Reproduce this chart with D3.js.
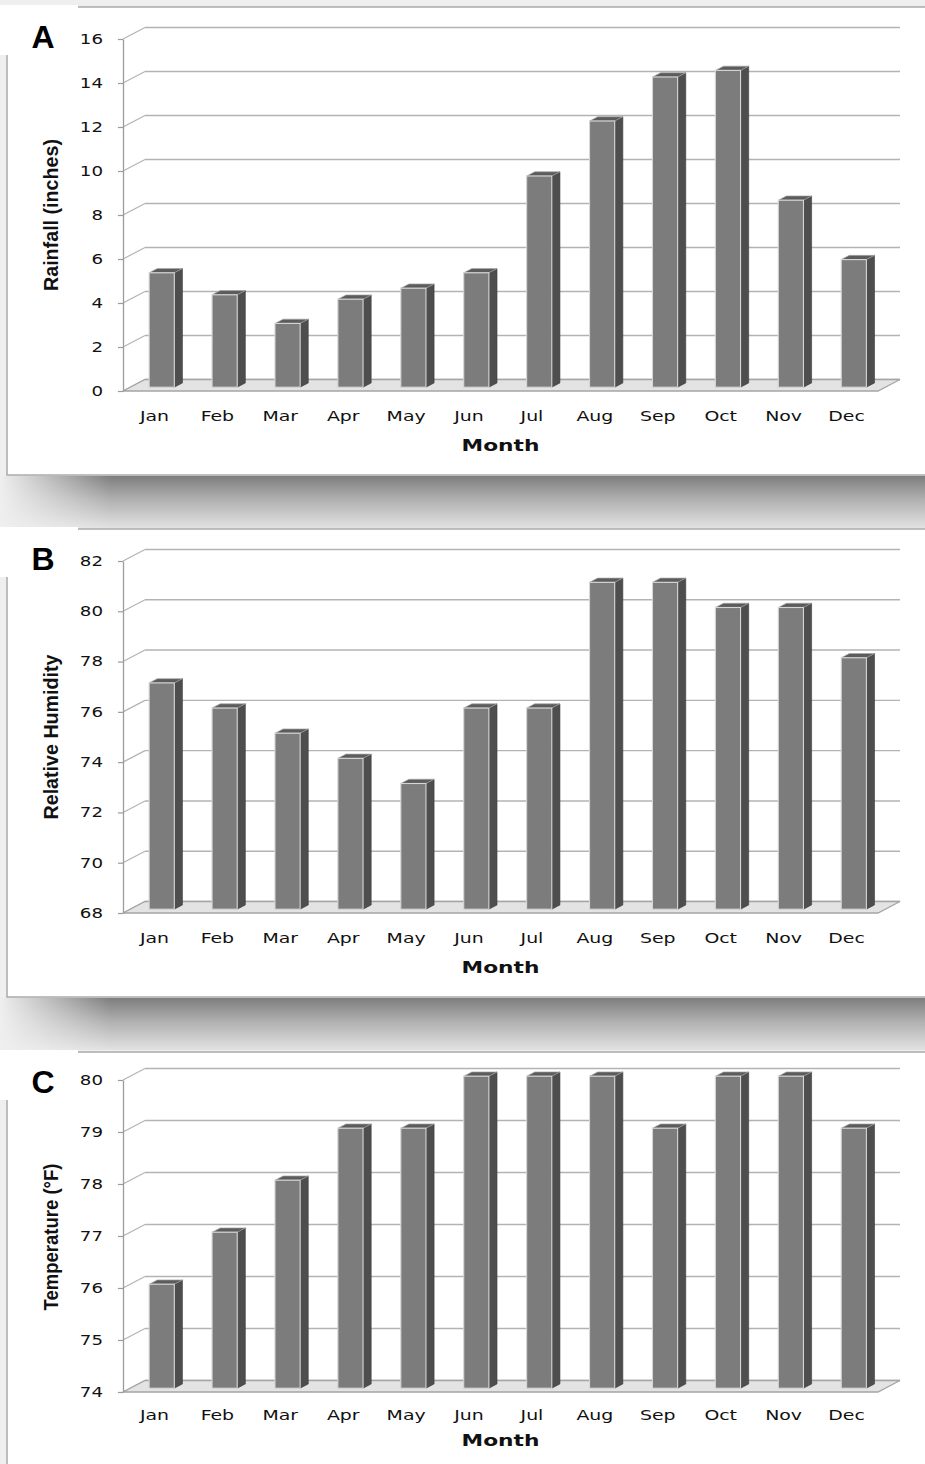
<!DOCTYPE html>
<html lang="en">
<head>
<meta charset="UTF-8">
<title>Monthly rainfall, humidity and temperature</title>
<script src="https://d3js.org/d3.v7.min.js"></script>
<style>
  body { margin: 0; background: #efefef; }
</style>
</head>
<body>
<div id="chart"></div>

<script>
// Data
const months = ["Jan", "Feb", "Mar", "Apr", "May", "Jun", "Jul", "Aug", "Sep", "Oct", "Nov", "Dec"];
const rainfall = [5.2, 4.2, 2.9, 4.0, 4.5, 5.2, 9.6, 12.1, 14.1, 14.4, 8.5, 5.8];
const humidity = [77, 76, 75, 74, 73, 76, 76, 81, 81, 80, 80, 78];
const temperature = [76, 77, 78, 79, 79, 80, 80, 80, 79, 80, 80, 79];
const rainTicks = [0, 2, 4, 6, 8, 10, 12, 14, 16];
const humidityTicks = [68, 70, 72, 74, 76, 78, 80, 82];
const temperatureTicks = [74, 75, 76, 77, 78, 79, 80];

// Layout of each panel (y values relative to the panel frame top)
const panels = [
  { letter: "A", top: 7, frameH: 468, values: rainfall, ticks: rainTicks,
    title: "Rainfall (inches)", titleLen: 152, plotTop: 32, plotBottom: 384,
    labelY: 409, monthY: 439, titleY: 208, shadow: true },
  { letter: "B", top: 529, frameH: 468, values: humidity, ticks: humidityTicks,
    title: "Relative Humidity", titleLen: 165, plotTop: 32, plotBottom: 384,
    labelY: 409, monthY: 439, titleY: 208, shadow: true },
  { letter: "C", top: 1052, frameH: 468, values: temperature, ticks: temperatureTicks,
    title: "Temperature (\u00B0F)", titleLen: 147, plotTop: 28, plotBottom: 340,
    labelY: 363, monthY: 389, titleY: 185, shadow: false }
];

const plotLeft = 123, plotRight = 878;
const depthX = 22, depthY = -11.5;      // offset from front plane to back wall
const barFront = 0.33, barBack = 0.70;  // bar depth as fraction of the floor
const gridColor = "#b3b3b3";

const svg = d3.select("#chart").append("svg")
  .attr("width", 925)
  .attr("height", 1464);

const defs = svg.append("defs");

// vertical fade of the shadow strip under each frame
const shadeV = defs.append("linearGradient")
  .attr("id", "shadeV")
  .attr("x1", 0).attr("y1", 0).attr("x2", 0).attr("y2", 1);
shadeV.append("stop").attr("offset", "0%").attr("stop-color", "#7e7e7e");
shadeV.append("stop").attr("offset", "45%").attr("stop-color", "#b0b0b0");
shadeV.append("stop").attr("offset", "100%").attr("stop-color", "#e2e2e2");

// fade the strip out on the left
const shadeH = defs.append("linearGradient")
  .attr("id", "shadeH")
  .attr("x1", 0).attr("y1", 0).attr("x2", 1).attr("y2", 0);
shadeH.append("stop").attr("offset", "0%").attr("stop-color", "#efefef").attr("stop-opacity", 1);
shadeH.append("stop").attr("offset", "100%").attr("stop-color", "#efefef").attr("stop-opacity", 0);

svg.append("rect")
  .attr("width", 925).attr("height", 1464)
  .attr("fill", "#efefef");

const x = d3.scaleBand()
  .domain(months)
  .range([plotLeft, plotRight]);

panels.forEach(p => {
  const g = svg.append("g").attr("transform", `translate(0,${p.top})`);

  // shadow strip under the frame
  if (p.shadow) {
    g.append("rect")
      .attr("x", 0).attr("y", p.frameH + 1)
      .attr("width", 925).attr("height", 52)
      .attr("fill", "url(#shadeV)");
    g.append("rect")
      .attr("x", 0).attr("y", p.frameH + 1)
      .attr("width", 110).attr("height", 52)
      .attr("fill", "url(#shadeH)");
  }

  // frame
  g.append("rect")
    .attr("x", 7).attr("y", 0)
    .attr("width", 960).attr("height", p.frameH)
    .attr("fill", "#fff")
    .attr("stroke", "#aaaaaa")
    .attr("stroke-width", 1.5);

  // white box behind the panel letter
  g.append("rect")
    .attr("x", 0).attr("y", -2)
    .attr("width", 78).attr("height", 50)
    .attr("fill", "#fff");

  g.append("text")
    .attr("x", 43).attr("y", 41)
    .attr("text-anchor", "middle")
    .style("font-family", "Liberation Sans, Arial, sans-serif")
    .style("font-weight", "bold")
    .style("font-size", "32px")
    .text(p.letter);

  const y = d3.scaleLinear()
    .domain(d3.extent(p.ticks))
    .range([p.plotBottom, p.plotTop]);
  const y0 = y.range()[0];

  // back wall grid lines
  g.append("g").selectAll("line")
    .data(p.ticks)
    .enter().append("line")
    .attr("x1", plotLeft + depthX).attr("x2", plotRight + depthX)
    .attr("y1", d => y(d) + depthY).attr("y2", d => y(d) + depthY)
    .attr("stroke", gridColor)
    .attr("stroke-width", 1.4);

  // side wall grid lines
  g.append("g").selectAll("line")
    .data(p.ticks)
    .enter().append("line")
    .attr("x1", plotLeft).attr("x2", plotLeft + depthX)
    .attr("y1", d => y(d)).attr("y2", d => y(d) + depthY)
    .attr("stroke", gridColor)
    .attr("stroke-width", 1.2);

  // floor
  g.append("polygon")
    .attr("points", [
      [plotLeft, y0], [plotRight, y0],
      [plotRight + depthX, y0 + depthY], [plotLeft + depthX, y0 + depthY]
    ].map(d => d.join(",")).join(" "))
    .attr("fill", "#e3e3e3")
    .attr("stroke", "#a5a5a5")
    .attr("stroke-width", 1.3);

  // front y axis
  const yAxis = g.append("g")
    .attr("transform", `translate(${plotLeft},0)`)
    .call(d3.axisLeft(y).tickValues(p.ticks).tickFormat(d3.format("d"))
      .tickSize(5).tickSizeOuter(0));
  yAxis.select(".domain").attr("stroke", "#9c9c9c").attr("stroke-width", 1.3);
  yAxis.selectAll(".tick line").attr("stroke", "#9c9c9c").attr("stroke-width", 1.2);
  yAxis.selectAll("text")
    .attr("x", 0)
    .attr("transform", "translate(-20,0) scale(1.35,1)")
    .attr("fill", "#111")
    .style("font-family", "DejaVu Sans, Verdana, sans-serif")
    .style("font-size", "13.5px");

  // 3D bars
  const w = x.bandwidth() * 0.4;
  const fx = depthX * barFront, fy = depthY * barFront;
  const bx = depthX * barBack, by = depthY * barBack;
  const bars = g.append("g").selectAll("g")
    .data(p.values)
    .enter().append("g");

  bars.append("polygon")   // right side
    .attr("points", (d, i) => {
      const xr = x(months[i]) + x.bandwidth() / 2 + w / 2;
      const yt = y(d);
      return [[xr + fx, yt + fy], [xr + bx, yt + by], [xr + bx, y0 + by], [xr + fx, y0 + fy]]
        .map(q => q.join(",")).join(" ");
    })
    .attr("fill", "#4e4e4e")
    .attr("stroke", "#3c3c3c")
    .attr("stroke-width", 0.6);

  bars.append("polygon")   // top
    .attr("points", (d, i) => {
      const xl = x(months[i]) + x.bandwidth() / 2 - w / 2;
      const xr = xl + w;
      const yt = y(d);
      return [[xl + fx, yt + fy], [xr + fx, yt + fy], [xr + bx, yt + by], [xl + bx, yt + by]]
        .map(q => q.join(",")).join(" ");
    })
    .attr("fill", "#5c5c5c")
    .attr("stroke", "#a8a8a8")
    .attr("stroke-width", 0.7);

  bars.append("rect")      // front face
    .attr("x", (d, i) => x(months[i]) + x.bandwidth() / 2 - w / 2 + fx)
    .attr("y", d => y(d) + fy)
    .attr("width", w)
    .attr("height", d => y0 - y(d))
    .attr("fill", "#7c7c7c")
    .attr("stroke", "#d6d6d6")
    .attr("stroke-width", 1.1);

  // month labels
  const xAxis = g.append("g")
    .attr("transform", `translate(0,${p.labelY})`)
    .call(d3.axisBottom(x).tickSize(0));
  xAxis.select(".domain").remove();
  xAxis.selectAll("text")
    .attr("y", 0)
    .attr("dy", "0.35em")
    .attr("transform", "scale(1.4,1)")
    .attr("fill", "#111")
    .style("font-family", "DejaVu Sans, Verdana, sans-serif")
    .style("font-size", "13.5px");

  // axis titles
  g.append("text")
    .attr("transform", `translate(${(plotLeft + plotRight) / 2},${p.monthY}) scale(1.45,1)`)
    .attr("text-anchor", "middle")
    .attr("dy", "0.35em")
    .attr("fill", "#111")
    .style("font-family", "DejaVu Sans, Verdana, sans-serif")
    .style("font-weight", "bold")
    .style("font-size", "15px")
    .text("Month");

  g.append("text")
    .attr("transform", `translate(58,${p.titleY}) rotate(-90)`)
    .attr("x", -p.titleLen / 2)
    .attr("textLength", p.titleLen)
    .attr("lengthAdjust", "spacingAndGlyphs")
    .attr("fill", "#111")
    .style("font-family", "Liberation Sans, Arial, sans-serif")
    .style("font-weight", "bold")
    .style("font-size", "21px")
    .text(p.title);
});
</script>
</body>
</html>
